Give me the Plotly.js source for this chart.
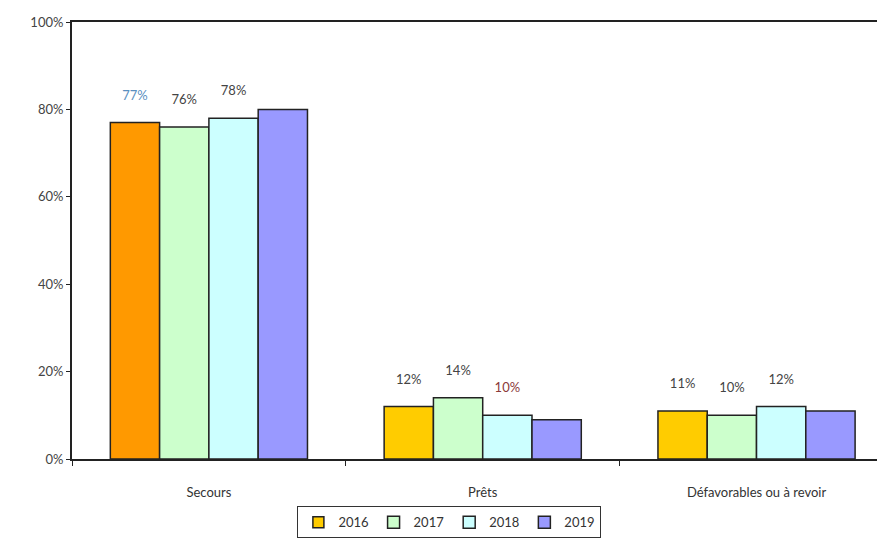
<!DOCTYPE html>
<html>
<head>
<meta charset="utf-8">
<script src="https://cdn.plot.ly/plotly-3.0.1.min.js"></script>
<style>html,body{margin:0;padding:0;background:#fff;}#chart{width:879px;height:541px;}</style>
</head>
<body>
<div id="chart"></div>
<script>
const categories = ["Secours", "Prêts", "Défavorables ou à revoir"];
const years = ["2016", "2017", "2018", "2019"];
const v2016 = [77, 12, 11];
const v2017 = [76, 14, 10];
const v2018 = [78, 10, 12];
const v2019 = [80, 9, 11];
const labels2016 = ["77%", "12%", "11%"];
const labels2017 = ["76%", "14%", "10%"];
const labels2018 = ["78%", "10%", "12%"];
const yTickVals = [0, 20, 40, 60, 80, 100];
const yTickText = ["0%", "20%", "40%", "60%", "80%", "100%"];

const font = "Lato, 'Open Sans', sans-serif";
const outline = {color: "#222", width: 1.5};

function barTrace(name, y, colors, text, textColors) {
  return {
    type: "bar", name: name, x: categories, y: y,
    marker: {color: colors, line: outline},
    // trailing blank line lifts the label above the bar, as in the reference
    text: text ? text.map(t => t + "<br>\u00a0") : null,
    textposition: text ? "outside" : "none",
    textfont: {family: font, size: 13, color: textColors || "#444"},
    cliponaxis: false,
    showlegend: name !== "2016",
    hoverinfo: "none"
  };
}

const data = [
  // legend-only entry for 2016 (legend swatch is yellow)
  {type: "scatter", mode: "markers", name: "2016", x: [null], y: [null],
   marker: {symbol: "square", size: 11, color: "#FFCC00", line: {color: "#222", width: 1.5}},
   showlegend: true, hoverinfo: "none"},
  barTrace("2016", v2016, ["#FF9900", "#FFCC00", "#FFCC00"], labels2016, ["#5a8fbf", "#444", "#444"]),
  barTrace("2017", v2017, "#CCFFCC", labels2017, "#444"),
  barTrace("2018", v2018, "#CCFFFF", labels2018, ["#444", "#8b3a3a", "#444"]),
  barTrace("2019", v2019, "#9999FF", null)
];

const layout = {
  width: 879, height: 541,
  margin: {l: 72, r: 2, t: 22, b: 82},
  paper_bgcolor: "#fff", plot_bgcolor: "#fff",
  barmode: "group", bargap: 0.28, bargroupgap: 0,
  font: {family: font, size: 13, color: "#444"},
  xaxis: {
    type: "category", range: [-0.5, 2.44],
    showline: true, linecolor: "#222", linewidth: 2, mirror: true,
    ticks: "outside", tickson: "boundaries", ticklen: 5, tickcolor: "#222", tickwidth: 1,
    ticklabelstandoff: 20,
    showgrid: false, zeroline: false,
    tickfont: {family: font, size: 13, color: "#333"}
  },
  yaxis: {
    range: [0, 100], tickvals: yTickVals, ticktext: yTickText,
    showline: true, linecolor: "#222", linewidth: 2,
    ticks: "outside", ticklen: 4, tickcolor: "#222",
    showgrid: false, zeroline: false,
    tickfont: {family: font, size: 13, color: "#444"}
  },
  legend: {
    orientation: "h", x: 0.28, xanchor: "left", y: -0.108, yanchor: "top",
    bordercolor: "#333", borderwidth: 1, bgcolor: "#fff",
    font: {family: font, size: 13, color: "#333"},
    itemwidth: 30, tracegroupgap: 0
  },
  showlegend: true
};

Plotly.newPlot("chart", data, layout, {displayModeBar: false, staticPlot: true});
</script>
</body>
</html>
